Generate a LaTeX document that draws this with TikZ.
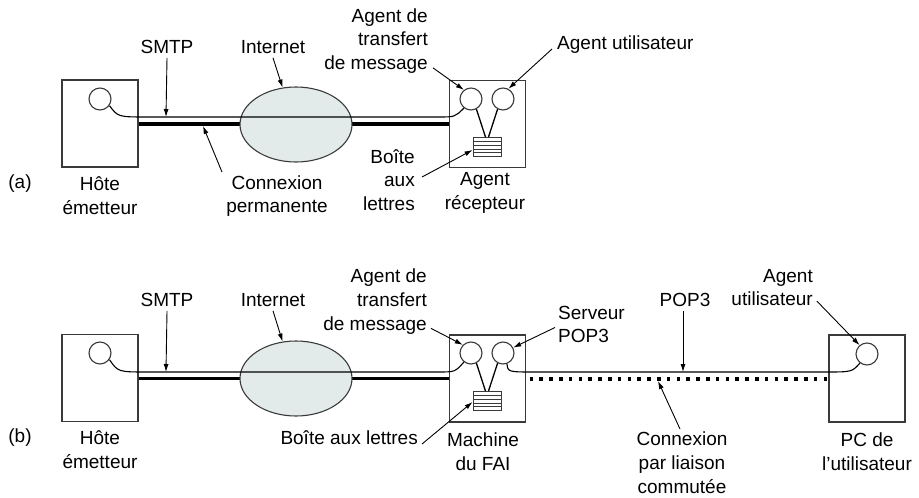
\documentclass[tikz,border=0pt]{standalone}
\usepackage{fontspec}
\setmainfont{Liberation Sans}
\usetikzlibrary{arrows.meta,calc,shapes.geometric}

\definecolor{cloudfill}{HTML}{E2EAEA}
\definecolor{edge}{HTML}{3A3A3A}

\tikzset{
  lbl/.style={inner sep=0pt, font=\fontsize{19}{23.8}\selectfont, align=center},
  lblr/.style={lbl, align=right},
  lbll/.style={lbl, align=left},
  hostbox/.style={draw=edge, line width=1.1pt, minimum width=76pt, minimum height=87pt, inner sep=0pt},
  agent/.style={draw=edge, line width=1.1pt, circle, minimum size=22pt, inner sep=0pt, fill=white},
  cloud/.style={draw=edge, line width=1.1pt, ellipse, fill=cloudfill, minimum width=112pt, minimum height=75pt, inner sep=0pt},
  mailbox/.style={draw=edge, line width=0.9pt, minimum width=28pt, minimum height=19pt, inner sep=0pt, fill=white,
    path picture={
      \foreach \k in {1,...,4}
        \draw[edge, line width=0.7pt]
          ($(path picture bounding box.north west)!\k/5!(path picture bounding box.south west)$) --
          ($(path picture bounding box.north east)!\k/5!(path picture bounding box.south east)$);
    }},
  thinlink/.style={line width=1.1pt, draw=black},
  thicklink/.style={line width=3.6pt, draw=black},
  dialup/.style={line width=3.6pt, draw=black, dash pattern=on 3.6pt off 6.2pt},
  leg/.style={line width=1.3pt, draw=black},
  ptr/.style={line width=0.9pt, -{Latex[length=8pt,width=5pt]}},
}

\begin{document}
\begin{tikzpicture}[x=1pt,y=-1pt]
\useasboundingbox (0,0) rectangle (919,498);

% ---------------- (a) permanent connection ----------------
\node[hostbox] (hostA) at (100,123.5) {};
\node[hostbox] (recvA) at (487.5,124) {};
\node[agent] (srcA) at (100,99) {};
\node[agent] (mtaA) at (471,99) {};
\node[agent] (uaA) at (503,99) {};
\node[mailbox] (boxA) at (487,147) {};

\draw[thicklink] (hostA.east |- 0,124) -- (recvA.west |- 0,124);
\node[cloud] (netA) at (296,124.5) {};
\draw[thinlink] (srcA.-35) .. controls (118,117) .. (148,117) -- (438,117)
  .. controls (455,117) .. (mtaA.232);
\draw[leg] (mtaA.-62) -- ([xshift=-1.5pt]boxA.north);
\draw[leg] (uaA.-118) -- ([xshift=1.5pt]boxA.north);

\coordinate (smtpPtA) at (166,117);
\coordinate (permPtA) at (203,126);

\node[lbl] (tagA) at (20,184) {(a)};
\node[lbl] (hostLblA) at (100,196) {Hôte\\émetteur};
\node[lbl] (smtpLblA) at (167,47) {SMTP};
\node[lbl] (netLblA) at (273,47) {Internet};
\node[lbl] (permLblA) at (277,196) {Connexion\\permanente};
\node[lblr, anchor=east] (mtaLblA) at (428,41) {Agent de\\transfert\\de message};
\node[lbll, anchor=west] (uaLblA) at (557,45) {Agent utilisateur};
\node[lblr, anchor=east] (boxLblA) at (415,180) {Boîte\\aux\\lettres};
\node[lbl] (recvLblA) at (485,193) {Agent\\récepteur};

\draw[ptr] ([yshift=-4pt]smtpLblA.south) -- (smtpPtA);
\draw[ptr] ([yshift=-4pt]netLblA.south) -- (netA.110);
\draw[ptr] ([xshift=-55pt,yshift=3pt]permLblA.north) -- (permPtA);
\draw[ptr] ([xshift=5pt,yshift=6pt]mtaLblA.south east) -- (mtaA.128);
\draw[ptr] ([xshift=-5pt,yshift=-4pt]uaLblA.west) -- (uaA.62);
\draw[ptr] ([xshift=7pt,yshift=3pt]boxLblA.east) -- ([yshift=-3pt]boxA.west);

% ---------------- (b) dial-up connection ----------------
\node[hostbox] (hostB) at (100,378) {};
\node[hostbox] (ispB) at (487.5,378.5) {};
\node[hostbox] (pcB) at (867,378.5) {};
\node[agent] (srcB) at (100,353) {};
\node[agent] (mtaB) at (471,353) {};
\node[agent] (popB) at (503,353) {};
\node[agent] (uaB) at (867,354) {};
\node[mailbox] (boxB) at (487,401) {};

\draw[thicklink] (hostB.east |- 0,378.5) -- (ispB.west |- 0,378.5);
\draw[dialup] ([xshift=3.5pt]ispB.east |- 0,379) -- (pcB.west |- 0,379);
\node[cloud] (netB) at (296,378.5) {};
\draw[thinlink] (srcB.-35) .. controls (118,372) .. (148,372) -- (438,372)
  .. controls (455,372) .. (mtaB.232);
\draw[thinlink] (popB.-70) .. controls (508,372) .. (535,372) -- (825,372)
  .. controls (852,372) .. (uaB.232);
\draw[leg] (mtaB.-62) -- ([xshift=-1.5pt]boxB.north);
\draw[leg] (popB.-118) -- ([xshift=1.5pt]boxB.north);

\coordinate (smtpPtB) at (166,372);
\coordinate (popPtB) at (683,372);
\coordinate (dialPtB) at (658,381);

\node[lbl] (tagB) at (20,438) {(b)};
\node[lbl] (hostLblB) at (100,450) {Hôte\\émetteur};
\node[lbl] (smtpLblB) at (167,300) {SMTP};
\node[lbl] (netLblB) at (273,300) {Internet};
\node[lblr, anchor=east] (mtaLblB) at (427,301.5) {Agent de\\transfert\\de message};
\node[lblr, anchor=east] (boxLblB) at (418,438) {Boîte aux lettres};
\node[lbll, anchor=west] (popLblB) at (558,324.5) {Serveur\\POP3};
\node[lbl] (pop3LblB) at (685,300) {POP3};
\node[lblr, anchor=east] (uaLblB) at (813,287.5) {Agent\\utilisateur};
\node[lbl] (dialLblB) at (682,463) {Connexion\\par liaison\\commutée};
\node[lbl] (ispLblB) at (483,451.5) {Machine\\du FAI};
\node[lbl] (pcLblB) at (867,451.5) {PC de\\l’utilisateur};

\draw[ptr] ([yshift=-4pt]smtpLblB.south) -- (smtpPtB);
\draw[ptr] ([yshift=-4pt]netLblB.south) -- (netB.110);
\draw[ptr] ([xshift=4pt,yshift=6pt]mtaLblB.south east) -- (mtaB.135);
\draw[ptr] ([xshift=4pt,yshift=-6pt]boxLblB.east) -- ([yshift=-1pt]boxB.west);
\draw[ptr] ([xshift=-3pt,yshift=-3pt]popLblB.west) -- (popB.28);
\draw[ptr] ([xshift=-2pt,yshift=-4pt]pop3LblB.south) -- (popPtB);
\draw[ptr] ([xshift=4pt,yshift=5pt]uaLblB.south east) -- (uaB.130);
\draw[ptr] ([xshift=-2pt,yshift=3pt]dialLblB.north) -- (dialPtB);
\end{tikzpicture}
\end{document}
